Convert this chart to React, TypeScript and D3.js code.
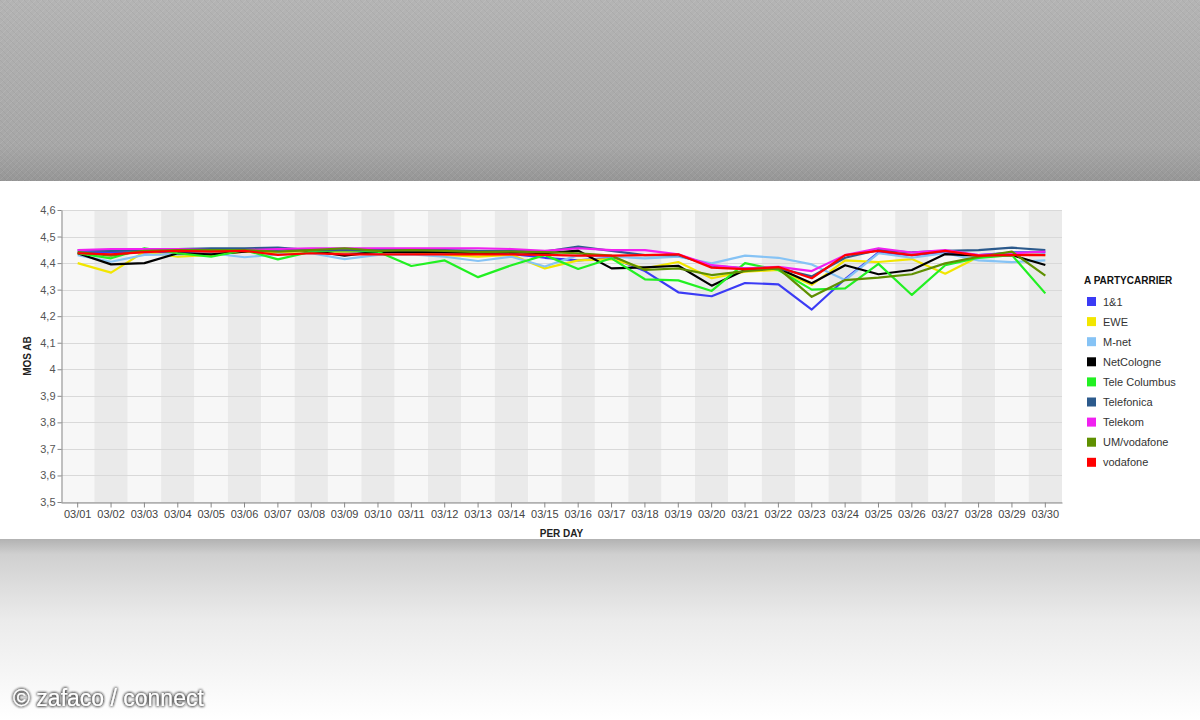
import { useEffect, useRef } from 'react';
import * as d3 from 'd3';

const days = [
  '03/01', '03/02', '03/03', '03/04', '03/05', '03/06', '03/07', '03/08', '03/09', '03/10',
  '03/11', '03/12', '03/13', '03/14', '03/15', '03/16', '03/17', '03/18', '03/19', '03/20',
  '03/21', '03/22', '03/23', '03/24', '03/25', '03/26', '03/27', '03/28', '03/29', '03/30',
];

const carriers = ['1&1', 'EWE', 'M-net', 'NetCologne', 'Tele Columbus', 'Telefonica', 'Telekom', 'UM/vodafone', 'vodafone'];

const carrierColors = ['#3b3bf5', '#f2e600', '#86c3f5', '#000000', '#22f022', '#2c5a8c', '#f020f0', '#5f9000', '#ff0000'];

const einsUndEins = [4.44, 4.44, 4.44, 4.44, 4.445, 4.445, 4.445, 4.44, 4.44, 4.44, 4.44, 4.44, 4.44, 4.435, 4.42, 4.41, 4.42, 4.37, 4.29, 4.275, 4.325, 4.32, 4.225, 4.34, 4.44, 4.43, 4.44, 4.43, 4.44, 4.44];
const ewe = [4.4, 4.364, 4.443, 4.424, 4.431, 4.443, 4.437, 4.443, 4.443, 4.446, 4.437, 4.431, 4.424, 4.431, 4.38, 4.41, 4.415, 4.38, 4.404, 4.343, 4.368, 4.374, 4.318, 4.41, 4.404, 4.415, 4.36, 4.424, 4.437, 4.43];
const mnet = [4.43, 4.405, 4.431, 4.433, 4.437, 4.422, 4.433, 4.437, 4.415, 4.431, 4.433, 4.424, 4.408, 4.424, 4.387, 4.43, 4.424, 4.418, 4.424, 4.399, 4.428, 4.42, 4.395, 4.336, 4.437, 4.42, 4.437, 4.41, 4.404, 4.41];
const netCologne = [4.437, 4.395, 4.4, 4.437, 4.433, 4.443, 4.456, 4.446, 4.428, 4.443, 4.441, 4.441, 4.437, 4.441, 4.437, 4.447, 4.38, 4.384, 4.39, 4.315, 4.374, 4.38, 4.324, 4.392, 4.358, 4.374, 4.434, 4.428, 4.43, 4.393];
const teleColumbus = [4.437, 4.418, 4.456, 4.437, 4.424, 4.449, 4.414, 4.443, 4.449, 4.443, 4.389, 4.41, 4.347, 4.392, 4.43, 4.378, 4.418, 4.339, 4.335, 4.295, 4.4, 4.374, 4.3, 4.305, 4.397, 4.28, 4.392, 4.42, 4.43, 4.286];
const telefonica = [4.449, 4.446, 4.449, 4.453, 4.456, 4.456, 4.458, 4.449, 4.449, 4.449, 4.449, 4.449, 4.446, 4.446, 4.443, 4.462, 4.446, 4.43, 4.43, 4.39, 4.38, 4.38, 4.35, 4.42, 4.45, 4.44, 4.446, 4.449, 4.458, 4.449];
const telekom = [4.449, 4.453, 4.453, 4.453, 4.449, 4.449, 4.453, 4.456, 4.456, 4.456, 4.456, 4.456, 4.456, 4.453, 4.446, 4.456, 4.449, 4.449, 4.433, 4.392, 4.38, 4.386, 4.37, 4.43, 4.456, 4.44, 4.449, 4.43, 4.437, 4.443];
const umVodafone = [4.441, 4.428, 4.446, 4.449, 4.449, 4.449, 4.443, 4.449, 4.456, 4.446, 4.449, 4.446, 4.441, 4.443, 4.441, 4.437, 4.428, 4.374, 4.38, 4.355, 4.37, 4.38, 4.273, 4.336, 4.345, 4.358, 4.399, 4.424, 4.443, 4.353];
const vodafone = [4.437, 4.433, 4.441, 4.446, 4.443, 4.446, 4.431, 4.437, 4.433, 4.433, 4.433, 4.433, 4.433, 4.433, 4.431, 4.428, 4.428, 4.43, 4.433, 4.383, 4.377, 4.385, 4.343, 4.43, 4.446, 4.43, 4.446, 4.428, 4.43, 4.43];

const seriesValues = [einsUndEins, ewe, mnet, netCologne, teleColumbus, telefonica, telekom, umVodafone, vodafone];

const yTicks = [3.5, 3.6, 3.7, 3.8, 3.9, 4.0, 4.1, 4.2, 4.3, 4.4, 4.5, 4.6];

const FONT = '"Liberation Sans", Arial, sans-serif';

export default function App() {
  const svgRef = useRef<SVGSVGElement>(null);

  useEffect(() => {
    if (!svgRef.current) return;
    const width = 1200;
    const height = 720;
    const margin = { top: 210, right: 138, bottom: 218, left: 61 };

    d3.select(svgRef.current).selectAll('*').remove();
    const svg = d3.select(svgRef.current).attr('width', width).attr('height', height);
    const defs = svg.append('defs');

    // page backdrop
    const topGrad = defs.append('linearGradient').attr('id', 'topGrad').attr('x1', 0).attr('y1', 0).attr('x2', 0).attr('y2', 1);
    topGrad.append('stop').attr('offset', '0%').attr('stop-color', '#b4b4b4');
    topGrad.append('stop').attr('offset', '80%').attr('stop-color', '#a7a7a7');
    topGrad.append('stop').attr('offset', '100%').attr('stop-color', '#969696');

    const hatch = defs.append('pattern').attr('id', 'hatch').attr('width', 6).attr('height', 6).attr('patternUnits', 'userSpaceOnUse');
    hatch.append('path').attr('d', 'M0,6 L6,0').attr('stroke', '#ffffff').attr('stroke-opacity', 0.08).attr('stroke-width', 1);
    hatch.append('path').attr('d', 'M0,0 L6,6').attr('stroke', '#000000').attr('stroke-opacity', 0.04).attr('stroke-width', 1);

    const botGrad = defs.append('linearGradient').attr('id', 'botGrad').attr('x1', 0).attr('y1', 0).attr('x2', 0).attr('y2', 1);
    botGrad.append('stop').attr('offset', '0%').attr('stop-color', '#b0b0b0');
    botGrad.append('stop').attr('offset', '9%').attr('stop-color', '#d0d0d0');
    botGrad.append('stop').attr('offset', '45%').attr('stop-color', '#ebebeb');
    botGrad.append('stop').attr('offset', '100%').attr('stop-color', '#ffffff');

    svg.append('rect').attr('x', 0).attr('y', 0).attr('width', width).attr('height', 182).attr('fill', 'url(#topGrad)');
    svg.append('rect').attr('x', 0).attr('y', 0).attr('width', width).attr('height', 182).attr('fill', 'url(#hatch)');
    svg.append('rect').attr('x', 0).attr('y', 538).attr('width', width).attr('height', 182).attr('fill', 'url(#botGrad)');
    svg.append('rect').attr('x', 0).attr('y', 181).attr('width', width).attr('height', 358).attr('fill', '#ffffff');

    const x = d3
      .scaleBand()
      .domain(days)
      .range([margin.left, width - margin.right])
      .padding(0);

    const y = d3
      .scaleLinear()
      .domain([3.5, 4.6])
      .range([height - margin.bottom, margin.top]);

    const plotBottom = height - margin.bottom;

    // alternating day bands
    svg
      .selectAll('.band')
      .data(days)
      .enter()
      .append('rect')
      .attr('class', 'band')
      .attr('x', (d) => x(d) || 0)
      .attr('y', margin.top)
      .attr('width', x.bandwidth())
      .attr('height', plotBottom - margin.top)
      .attr('fill', (_, i) => (i % 2 === 0 ? '#f7f7f7' : '#eaeaea'));

    // horizontal grid
    svg
      .selectAll('.grid')
      .data(yTicks)
      .enter()
      .append('line')
      .attr('class', 'grid')
      .attr('x1', margin.left)
      .attr('x2', width - margin.right)
      .attr('y1', (d) => Math.round(y(d)) + 0.5)
      .attr('y2', (d) => Math.round(y(d)) + 0.5)
      .attr('stroke', '#d9d9d9')
      .attr('stroke-width', 1);

    const fmt = (v: number) => (Math.abs(v - Math.round(v)) < 1e-9 ? String(Math.round(v)) : v.toFixed(1).replace('.', ','));

    const yAxis = svg
      .append('g')
      .attr('transform', `translate(${margin.left + 0.5}, 0)`)
      .call(d3.axisLeft(y).tickValues(yTicks).tickFormat((d) => fmt(d as number)).tickSize(4).tickSizeOuter(0));
    yAxis.select('.domain').attr('stroke', '#888888');
    yAxis.selectAll('.tick line').attr('stroke', '#888888');
    yAxis
      .selectAll('text')
      .style('font-family', FONT)
      .style('font-size', '11px')
      .style('fill', '#555555')
      .attr('x', -6);

    const xAxis = svg
      .append('g')
      .attr('transform', `translate(0, ${Math.round(plotBottom) + 0.5})`)
      .call(d3.axisBottom(x).tickSize(5).tickSizeOuter(0));
    xAxis.select('.domain').attr('stroke', '#888888');
    xAxis.selectAll('.tick line').attr('stroke', '#888888');
    xAxis
      .selectAll('text')
      .style('font-family', FONT)
      .style('font-size', '11px')
      .style('fill', '#444444')
      .attr('y', 8);

    const line = d3
      .line<number>()
      .x((_, i) => (x(days[i]) || 0) + x.bandwidth() / 2)
      .y((d) => y(d));

    svg
      .selectAll('.series')
      .data(seriesValues)
      .enter()
      .append('path')
      .attr('class', 'series')
      .attr('d', (d) => line(d))
      .attr('fill', 'none')
      .attr('stroke', (_, i) => carrierColors[i])
      .attr('stroke-width', 2.2)
      .attr('stroke-linejoin', 'round');

    // axis titles
    svg
      .append('text')
      .attr('transform', `translate(31, ${(margin.top + plotBottom) / 2}) rotate(-90)`)
      .attr('text-anchor', 'middle')
      .style('font-family', FONT)
      .style('font-size', '10px')
      .style('font-weight', '700')
      .style('fill', '#222222')
      .text('MOS AB');

    svg
      .append('text')
      .attr('x', (margin.left + width - margin.right) / 2)
      .attr('y', 537)
      .attr('text-anchor', 'middle')
      .style('font-family', FONT)
      .style('font-size', '10px')
      .style('font-weight', '700')
      .style('fill', '#222222')
      .text('PER DAY');

    // legend
    const legend = svg.append('g').attr('transform', 'translate(1084, 284)');
    legend
      .append('text')
      .attr('x', 0)
      .attr('y', 0)
      .style('font-family', FONT)
      .style('font-size', '10px')
      .style('font-weight', '700')
      .style('fill', '#111111')
      .text('A PARTYCARRIER');

    const items = legend
      .selectAll('.item')
      .data(carriers)
      .enter()
      .append('g')
      .attr('class', 'item')
      .attr('transform', (_, i) => `translate(3, ${13 + i * 20.1})`);
    items.append('rect').attr('width', 9).attr('height', 9).attr('fill', (_, i) => carrierColors[i]);
    items
      .append('text')
      .attr('x', 16)
      .attr('y', 8.5)
      .style('font-family', FONT)
      .style('font-size', '11px')
      .style('fill', '#333333')
      .text((d) => d);

    // watermark
    const glow = defs.append('filter').attr('id', 'glow').attr('x', '-10%').attr('y', '-50%').attr('width', '120%').attr('height', '200%');
    glow.append('feGaussianBlur').attr('in', 'SourceAlpha').attr('stdDeviation', 1.6).attr('result', 'blur');
    glow.append('feFlood').attr('flood-color', '#222222').attr('flood-opacity', 1);
    glow.append('feComposite').attr('in2', 'blur').attr('operator', 'in').attr('result', 'shadow');
    const merge = glow.append('feMerge');
    merge.append('feMergeNode').attr('in', 'shadow');
    merge.append('feMergeNode').attr('in', 'shadow');
    merge.append('feMergeNode').attr('in', 'SourceGraphic');

    svg
      .append('text')
      .attr('x', 13)
      .attr('y', 706)
      .attr('filter', 'url(#glow)')
      .style('font-family', FONT)
      .style('font-size', '23px')
      .style('fill', '#ffffff')
      .text('© zafaco / connect');
  }, []);

  return (
    <div style={{ position: 'fixed', left: 0, top: 0, width: 1200, height: 720, overflow: 'hidden' }}>
      <svg ref={svgRef} style={{ display: 'block' }} />
    </div>
  );
}
